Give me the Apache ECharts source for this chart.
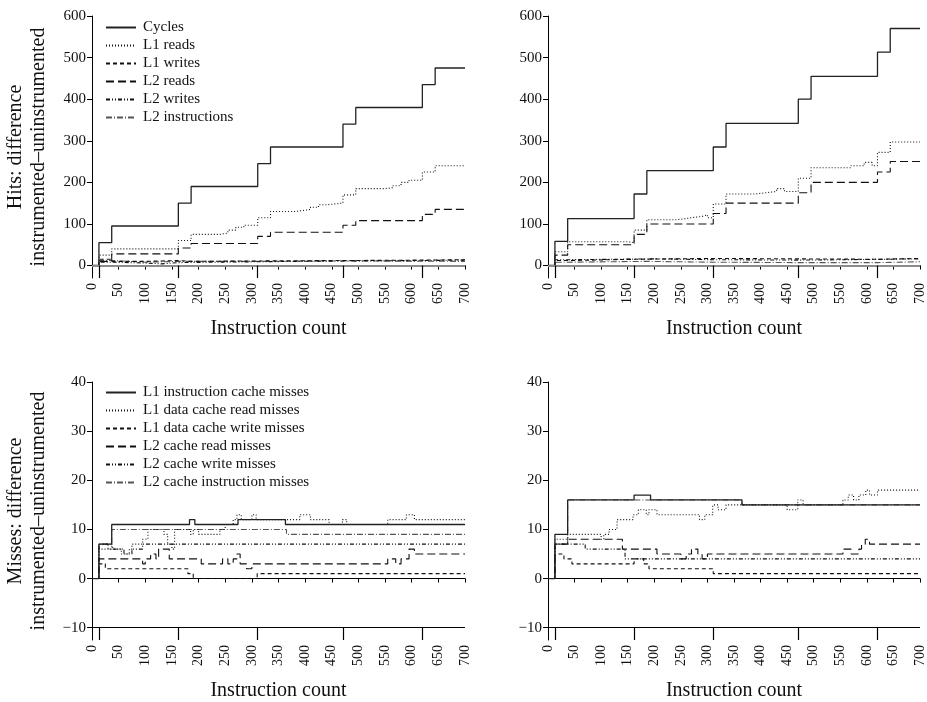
<!DOCTYPE html>
<html>
<head>
<meta charset="utf-8">
<script src="https://cdn.jsdelivr.net/npm/echarts@6.0.0/dist/echarts.min.js"></script>
<style>
  html, body { margin: 0; padding: 0; background: #fff; }
  #chart { width: 927px; height: 702px; }
</style>
</head>
<body>
<div id="chart"></div>
<script>
// 图例名称
var hitNames = ['Cycles', 'L1 reads', 'L1 writes', 'L2 reads', 'L2 writes', 'L2 instructions'];
var missNames = ['L1 instruction cache misses', 'L1 data cache read misses', 'L1 data cache write misses',
                 'L2 cache read misses', 'L2 cache write misses', 'L2 cache instruction misses'];

// 插桩点位置 (instruction count)
var instrPoints = [13, 162, 311, 471, 620];

var xTicks = [0, 50, 100, 150, 200, 250, 300, 350, 400, 450, 500, 550, 600, 650, 700];
var hitTicks = [0, 100, 200, 300, 400, 500, 600];
var missTicks = [-10, 0, 10, 20, 30, 40];

// 左上: hits
var cyclesA = [[0,0],[13,55],[37,95],[162,150],[186,190],[311,245],[335,285],[471,340],[495,380],[620,435],[644,475],[700,475]];
var l1ReadsA = [[0,0],[13,25],[37,40],[162,60],[186,75],[240,78],[255,85],[270,92],[285,97],[311,115],[335,130],[380,132],[395,135],[410,140],[425,146],[440,150],[471,170],[495,185],[550,187],[565,192],[580,200],[595,205],[620,225],[644,240],[700,240]];
var l1WritesA = [[0,0],[13,15],[37,10],[100,12],[162,10],[186,11],[311,12],[471,13],[620,14],[700,14]];
var l2ReadsA = [[0,0],[13,10],[37,28],[162,42],[186,53],[311,70],[335,80],[471,97],[495,108],[620,123],[644,135],[700,135]];
var l2WritesA = [[0,0],[13,8],[37,6],[100,4],[130,7],[162,9],[311,11],[471,12],[620,13],[700,12]];
var l2InstrA = [[0,0],[13,12],[37,8],[100,10],[162,10],[311,11],[471,10],[700,10]];

// 右上: hits
var cyclesB = [[0,0],[13,58],[37,113],[162,172],[186,228],[311,285],[335,342],[471,400],[495,455],[620,513],[644,570],[700,570]];
var l1ReadsB = [[0,0],[13,33],[37,57],[150,55],[162,85],[186,110],[240,112],[255,115],[270,118],[290,122],[300,115],[311,148],[335,172],[390,175],[410,178],[430,185],[445,178],[471,210],[495,235],[555,235],[570,240],[595,248],[610,240],[620,272],[644,297],[700,297]];
var l1WritesB = [[0,0],[13,12],[37,15],[162,17],[311,16],[471,15],[620,17],[700,17]];
var l2ReadsB = [[0,0],[13,25],[37,50],[162,75],[186,100],[311,125],[335,150],[471,175],[495,200],[620,225],[644,250],[700,250]];
var l2WritesB = [[0,0],[13,14],[37,16],[200,14],[311,13],[471,14],[560,16],[700,16]];
var l2InstrB = [[0,0],[13,8],[37,10],[186,8],[311,7],[471,7],[620,9],[700,9]];

// 左下: misses
var l1InstrMissC = [[0,0],[13,7],[37,11],[183,12],[193,11],[274,12],[363,11],[700,11]];
var l1ReadMissC = [[0,0],[13,6],[37,7],[40,6],[55,5],[70,6],[75,7],[95,8],[105,10],[135,9],[142,7],[150,6],[155,10],[185,9],[190,10],[200,9],[240,10],[250,11],[265,12],[272,13],[280,12],[300,13],[308,12],[390,13],[410,12],[445,11],[470,12],[478,11],[555,12],[590,13],[605,12],[700,12]];
var l1WriteMissC = [[0,0],[13,3],[25,2],[180,1],[190,0],[310,1],[700,1]];
var l2ReadMissC = [[0,0],[13,4],[95,3],[100,4],[110,5],[120,4],[125,6],[145,4],[205,3],[245,4],[255,3],[265,4],[272,5],[278,3],[290,2],[300,3],[555,4],[570,3],[580,4],[595,6],[605,5],[700,5]];
var l2WriteMissC = [[0,0],[13,7],[30,6],[60,5],[75,6],[95,7],[700,7]];
var l2InstrMissC = [[0,0],[13,7],[37,10],[365,9],[700,9]];

// 右下: misses
var l1InstrMissD = [[0,0],[13,9],[37,16],[162,17],[193,16],[365,15],[700,15]];
var l1ReadMissD = [[0,0],[13,8],[37,9],[100,8],[105,9],[115,10],[130,12],[150,12],[160,13],[170,14],[185,13],[190,14],[205,13],[285,12],[295,13],[310,15],[320,14],[335,15],[450,14],[470,16],[480,15],[555,16],[565,17],[575,16],[585,17],[598,18],[605,17],[620,18],[700,18]];
var l1WriteMissD = [[0,0],[13,5],[30,4],[45,3],[162,4],[180,3],[190,2],[311,1],[700,1]];
var l2ReadMissD = [[0,0],[13,7],[37,8],[140,6],[205,5],[250,4],[260,5],[270,6],[282,5],[290,4],[300,5],[555,6],[570,5],[585,6],[590,7],[597,8],[605,7],[700,7]];
var l2WriteMissD = [[0,0],[13,7],[45,7],[70,6],[145,4],[700,4]];
var l2InstrMissD = [[0,0],[13,7],[37,16],[365,15],[700,15]];

var FONT = '"Liberation Serif", "DejaVu Serif", serif';
var INK = '#111';

// 线型
var dashes = [
  {type: 'solid', width: 1.3, color: '#222'},
  {type: [1, 2], width: 1.1, color: INK},
  {type: [4, 3], width: 1.1, color: INK},
  {type: [8, 4], width: 1.1, color: INK},
  {type: [4, 2, 1, 2, 1, 2], width: 1.1, color: INK},
  {type: [6, 2, 1, 2], width: 1.1, color: '#555'}
];

function stepSeries(name, data, idx, style) {
  return {
    name: name,
    type: 'line',
    step: 'end',
    xAxisIndex: idx,
    yAxisIndex: idx,
    data: data,
    symbol: 'none',
    showSymbol: false,
    silent: true,
    lineStyle: style,
    itemStyle: {color: style.color},
    z: 3
  };
}

// 基线 + 插桩点分隔线
function frameSeries(idx, base, bottom, baseStyle) {
  var lines = [{yAxis: base, lineStyle: baseStyle}];
  instrPoints.forEach(function (p) {
    lines.push([{coord: [p, bottom]}, {coord: [p, base]}]);
  });
  return {
    type: 'line',
    xAxisIndex: idx,
    yAxisIndex: idx,
    data: [],
    silent: true,
    markLine: {
      silent: true,
      symbol: 'none',
      label: {show: false},
      lineStyle: {color: '#000', width: 1.2, type: 'solid'},
      data: lines
    },
    z: 2
  };
}

var grids = [
  {left: 92, right: 462, top: 16, bottom: 424},
  {left: 548, right: 5, top: 16, bottom: 424},
  {left: 92, right: 462, top: 382, bottom: 59},
  {left: 548, right: 5, top: 382, bottom: 59}
];

var xAxes = grids.map(function (g, i) {
  return {
    type: 'value',
    gridIndex: i,
    min: 0,
    max: 700,
    interval: 50,
    name: 'Instruction count',
    nameLocation: 'middle',
    nameGap: 41,
    nameTextStyle: {fontFamily: FONT, fontSize: 20, color: INK},
    axisLine: {lineStyle: {color: '#000', width: 1}},
    axisTick: {length: 4, lineStyle: {color: '#000'}},
    axisLabel: {rotate: 90, margin: 5, fontFamily: FONT, fontSize: 14, color: INK,
                customValues: xTicks},
    splitLine: {show: false}
  };
});

function yAxis(i, min, max, ticks, name) {
  return {
    type: 'value',
    gridIndex: i,
    min: min,
    max: max,
    name: name,
    nameLocation: 'middle',
    nameGap: 42,
    nameTextStyle: {fontFamily: FONT, fontSize: 20, color: INK, lineHeight: 23},
    axisLine: {show: true, lineStyle: {color: '#000', width: 1}},
    axisTick: {show: true, length: 5, lineStyle: {color: '#000'}, customValues: ticks},
    axisLabel: {
      margin: 6, fontFamily: FONT, fontSize: 15, color: INK,
      customValues: ticks,
      formatter: function (v) { return v < 0 ? '\u2212' + Math.abs(v) : String(v); }
    },
    splitLine: {show: false}
  };
}

var hitTitle = 'Hits: difference\ninstrumented\u2013uninstrumented';
var missTitle = 'Misses: difference\ninstrumented\u2013uninstrumented';

var yAxes = [
  yAxis(0, -30, 600, hitTicks, hitTitle),
  yAxis(1, -30, 600, hitTicks, ''),
  yAxis(2, -12.5, 40, missTicks, missTitle),
  yAxis(3, -12.5, 40, missTicks, '')
];

var zeroStyle = {color: '#8c8c8c', width: 2, type: 'solid'};
var tenStyle = {color: '#000', width: 1.2, type: 'solid'};

var sets = [
  [cyclesA, l1ReadsA, l1WritesA, l2ReadsA, l2WritesA, l2InstrA],
  [cyclesB, l1ReadsB, l1WritesB, l2ReadsB, l2WritesB, l2InstrB],
  [l1InstrMissC, l1ReadMissC, l1WriteMissC, l2ReadMissC, l2WriteMissC, l2InstrMissC],
  [l1InstrMissD, l1ReadMissD, l1WriteMissD, l2ReadMissD, l2WriteMissD, l2InstrMissD]
];

var series = [
  frameSeries(0, 0, -30, zeroStyle),
  frameSeries(1, 0, -30, zeroStyle),
  frameSeries(2, -10, -12.5, tenStyle),
  frameSeries(3, -10, -12.5, tenStyle)
];
sets.forEach(function (set, i) {
  var names = i < 2 ? hitNames : missNames;
  // 实线最后画
  for (var k = set.length - 1; k >= 0; k--) {
    series.push(stepSeries(names[k], set[k], i, dashes[k]));
  }
});

function legendAt(top, names) {
  return {
    data: names,
    orient: 'vertical',
    left: 105,
    top: top,
    itemWidth: 30,
    itemHeight: 14,
    itemGap: 3,
    padding: 0,
    selectedMode: false,
    itemStyle: {opacity: 0},   // 只显示线段, 不要圆点
    textStyle: {fontFamily: FONT, fontSize: 15, color: INK, lineHeight: 15, padding: [0, 0, 0, 2]}
  };
}

var option = {
  animation: false,
  backgroundColor: '#fff',
  grid: grids,
  xAxis: xAxes,
  yAxis: yAxes,
  legend: [legendAt(20, hitNames), legendAt(385, missNames)],
  series: series
};

var myChart = echarts.init(document.getElementById('chart'));
myChart.setOption(option);
</script>
</body>
</html>
